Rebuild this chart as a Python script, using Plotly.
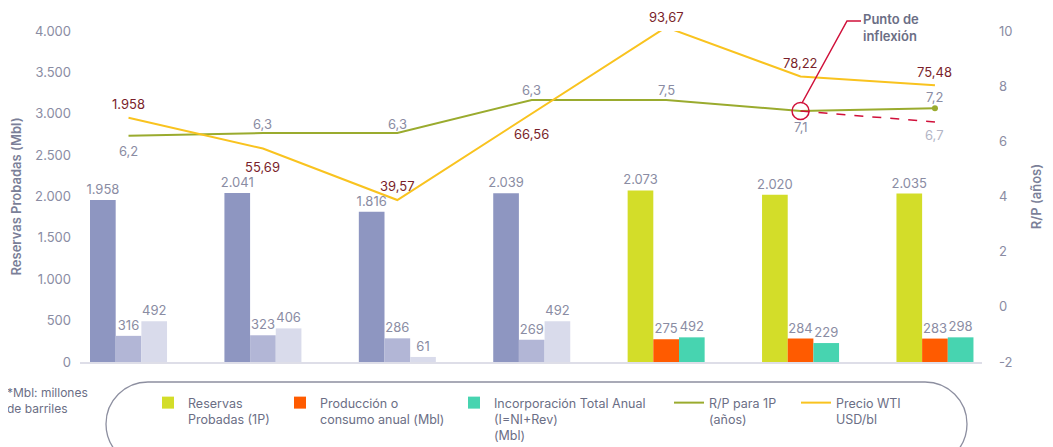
import plotly.graph_objects as go

# ---------------- data ----------------
periods = list(range(7))              # seven annual periods (no labels shown in source)
n_hist = 4                            # first four periods drawn in the muted palette
reservas = [1958, 2041, 1816, 2039, 2073, 2020, 2035]
produccion = [316, 323, 286, 269, 275, 284, 283]
incorporacion = [492, 406, 61, 492, 298, 229, 298]
incorporacion_labels = ["492", "406", "61", "492", "492", "229", "298"]
rp = [6.2, 6.3, 6.3, 7.5, 7.5, 7.1, 7.2]
rp_labels = ["6,2", "6,3", "6,3", "6,3", "7,5", "7,1", "7,2"]
rp_proj_x = [5, 6]
rp_proj = [7.1, 6.7]
rp_proj_label = "6,7"
wti = [65.3, 55.69, 39.57, 66.56, 93.67, 78.22, 75.48]
wti_labels = ["1.958", "55,69", "39,57", "66,56", "93,67", "78,22", "75,48"]
inflexion_idx = 5
left_ticks = [0, 500, 1000, 1500, 2000, 2500, 3000, 3500, 4000]
right_ticks = [-2, 0, 2, 4, 6, 8, 10]
wti_range = [-11.13, 92.48]

# ---------------- styling ----------------
FONT = "Inter"
GRAY = "#8a8ca3"
DGRAY = "#6b6e85"
RED = "#d0103a"
HIST = ["#8e96c1", "#b2b6d6", "#d9dbeb"]
NEW = ["#d3dd29", "#ff5b00", "#47d4b0"]
GREEN = "#9aab2e"
YELLOW = "#f9c31f"
# label offsets in pixels (positive = above the point)
wti_label_shift = [14, -18, 14, -20, 10, 14, 13]
rp_label_shift = [-15, 9, 9, 10, 10, -16, 11]

OFF = 8                         # default page (body) margin
W, H = 1053 - OFF, 447 - OFF
ML, MR, MT, MB = 80 - OFF, 71, 31 - OFF, 85
PW, PH = W - ML - MR, H - MT - MB


def PX(x):  # page pixel -> paper
    return (x - OFF - ML) / PW


def PY(y):
    return (H - MB - (y - OFF)) / PH


def fmt_thousands(v):
    return f"{v:,}".replace(",", ".")


def wti_paper(v):
    return (v - wti_range[0]) / (wti_range[1] - wti_range[0])


fig = go.Figure()

series = [
    ("Reservas<br>Probadas (1P)", reservas, [fmt_thousands(v) for v in reservas], "r", "legend"),
    ("Producción o<br>consumo anual (Mbl)", produccion, [str(v) for v in produccion], "p", "legend2"),
    ("Incorporación Total Anual<br>(I=NI+Rev)<br>(Mbl)", incorporacion, incorporacion_labels, "i", "legend3"),
]
for k, (name, vals, labels, og, lg) in enumerate(series):
    for part, (sl, colors, show) in enumerate([(slice(0, n_hist), HIST, False), (slice(n_hist, None), NEW, True)]):
        fig.add_trace(go.Bar(
            x=periods[sl], y=vals[sl], text=labels[sl], name=name,
            offsetgroup=og, marker=dict(color=colors[k], line=dict(width=0)),
            textposition="outside", cliponaxis=False, constraintext="none",
            textfont=dict(family=FONT, size=13, color=GRAY),
            showlegend=show, legend=lg, hoverinfo="skip",
        ))

# WTI price line (hidden third axis)
fig.add_trace(go.Scatter(
    x=periods, y=wti, mode="lines", name="Precio WTI<br>USD/bl",
    line=dict(color=YELLOW, width=2), yaxis="y3", legend="legend5",
    cliponaxis=False, hoverinfo="skip",
))
# R/P line
fig.add_trace(go.Scatter(
    x=periods, y=rp, mode="lines", name="R/P para 1P<br>(años)",
    line=dict(color=GREEN, width=2), yaxis="y2", legend="legend4",
    cliponaxis=False, hoverinfo="skip",
))
fig.add_trace(go.Scatter(
    x=periods[-1:], y=rp[-1:], mode="markers", marker=dict(color=GREEN, size=6),
    yaxis="y2", showlegend=False, hoverinfo="skip", cliponaxis=False,
))
# projected R/P (dashed)
fig.add_trace(go.Scatter(
    x=rp_proj_x, y=rp_proj, mode="lines", line=dict(color=RED, width=1.5, dash="dash"),
    yaxis="y2", showlegend=False, hoverinfo="skip", cliponaxis=False,
))
# inflexion circle
fig.add_trace(go.Scatter(
    x=[periods[inflexion_idx]], y=[rp[inflexion_idx]], mode="markers",
    marker=dict(symbol="circle-open", size=17, color=RED, line=dict(width=1.5)),
    yaxis="y2", showlegend=False, hoverinfo="skip", cliponaxis=False,
))

annotations = []
for i, lab in enumerate(wti_labels):
    annotations.append(dict(x=periods[i], y=wti_paper(wti[i]), xref="x", yref="paper", text=lab,
                            xanchor="center", yanchor="middle",
                            showarrow=False, yshift=wti_label_shift[i],
                            font=dict(family=FONT, size=13, color="#7a1f2b")))
for i, lab in enumerate(rp_labels):
    annotations.append(dict(x=periods[i], y=rp[i], xref="x", yref="y2", text=lab,
                            xanchor="center", yanchor="middle",
                            showarrow=False, yshift=rp_label_shift[i],
                            font=dict(family=FONT, size=13, color=GRAY)))
annotations.append(dict(x=rp_proj_x[-1], y=rp_proj[-1], xref="x", yref="y2", text=rp_proj_label,
                        xanchor="center", yanchor="middle",
                        showarrow=False, yshift=-13, font=dict(family=FONT, size=13, color="#b3b5c6")))
annotations.append(dict(x=PX(861), y=PY(27), xref="paper", yref="paper", xanchor="left", yanchor="middle",
                        align="left", text="Punto de<br>inflexión", showarrow=False,
                        font=dict(family=FONT, size=13, color=DGRAY, weight=600)))
annotations.append(dict(x=PX(5), y=PY(400), xref="paper", yref="paper", xanchor="left", yanchor="middle",
                        align="left", text="*Mbl: millones<br>de barriles", showarrow=False,
                        font=dict(family=FONT, size=12, color=DGRAY)))

# callout line
callout = f"M{PX(802)},{PY(103)} L{PX(847)},{PY(21)} L{PX(861)},{PY(21)}"
shapes = [dict(type="path", xref="paper", yref="paper", path=callout,
               line=dict(color=RED, width=1.5))]

# stadium-shaped legend frame
L_, R_, T_, B_, r = 106, 967, 382, 466, 42
k = 0.5523 * r
pts = [
    f"M{PX(L_ + r)},{PY(T_)}",
    f"L{PX(R_ - r)},{PY(T_)}",
    f"C{PX(R_ - r + k)},{PY(T_)} {PX(R_)},{PY(T_ + r - k)} {PX(R_)},{PY(T_ + r)}",
    f"C{PX(R_)},{PY(T_ + r + k)} {PX(R_ - r + k)},{PY(B_)} {PX(R_ - r)},{PY(B_)}",
    f"L{PX(L_ + r)},{PY(B_)}",
    f"C{PX(L_ + r - k)},{PY(B_)} {PX(L_)},{PY(B_ - r + k)} {PX(L_)},{PY(B_ - r)}",
    f"C{PX(L_)},{PY(T_ + r - k)} {PX(L_ + r - k)},{PY(T_)} {PX(L_ + r)},{PY(T_)}",
    "Z",
]
shapes.append(dict(type="path", xref="paper", yref="paper", path=" ".join(pts),
                   line=dict(color="#8d8fa0", width=1.3), layer="above"))

legend_common = dict(orientation="h", xanchor="left", yanchor="top", valign="top",
                     bgcolor="rgba(0,0,0,0)", borderwidth=0, itemwidth=30,
                     font=dict(family=FONT, size=12.5, color=DGRAY))
legend_left = [148, 280, 454, 669, 796]
legends = {}
for j, name in enumerate(["legend", "legend2", "legend3", "legend4", "legend5"]):
    legends[name] = dict(x=PX(legend_left[j]), y=PY(388), **legend_common)

fig.update_layout(
    width=W, height=H,
    margin=dict(l=ML, r=MR, t=MT, b=MB, autoexpand=False),
    paper_bgcolor="white", plot_bgcolor="white",
    barmode="group", bargap=0.427, bargroupgap=0,
    separators=",.",
    font=dict(family=FONT, color=GRAY),
    xaxis=dict(range=[-0.361, 6.35], showticklabels=False, showgrid=False, zeroline=False,
               showline=True, linecolor="#dedee8", linewidth=2, ticks=""),
    yaxis=dict(range=[0, 4000], tickvals=left_ticks, ticktext=[fmt_thousands(v) for v in left_ticks],
               showgrid=False, zeroline=False, showline=False, ticklabelstandoff=8,
               tickfont=dict(family=FONT, size=13, color=GRAY),
               title=dict(text="Reservas Probadas (Mbl)", standoff=14,
                          font=dict(family=FONT, size=13, color="#7b7f98", weight=600))),
    yaxis2=dict(range=[-2, 10], overlaying="y", side="right", tickvals=right_ticks,
                ticktext=[str(v) for v in right_ticks], showgrid=False, zeroline=False,
                ticklabelstandoff=16, tickfont=dict(family=FONT, size=13, color=GRAY),
                title=dict(text="R/P (años)", standoff=20,
                           font=dict(family=FONT, size=13, color="#7b7f98", weight=600))),
    yaxis3=dict(range=wti_range, overlaying="y", visible=False),
    annotations=annotations, shapes=shapes,
    **legends,
)

fig.write_html("out.html")
